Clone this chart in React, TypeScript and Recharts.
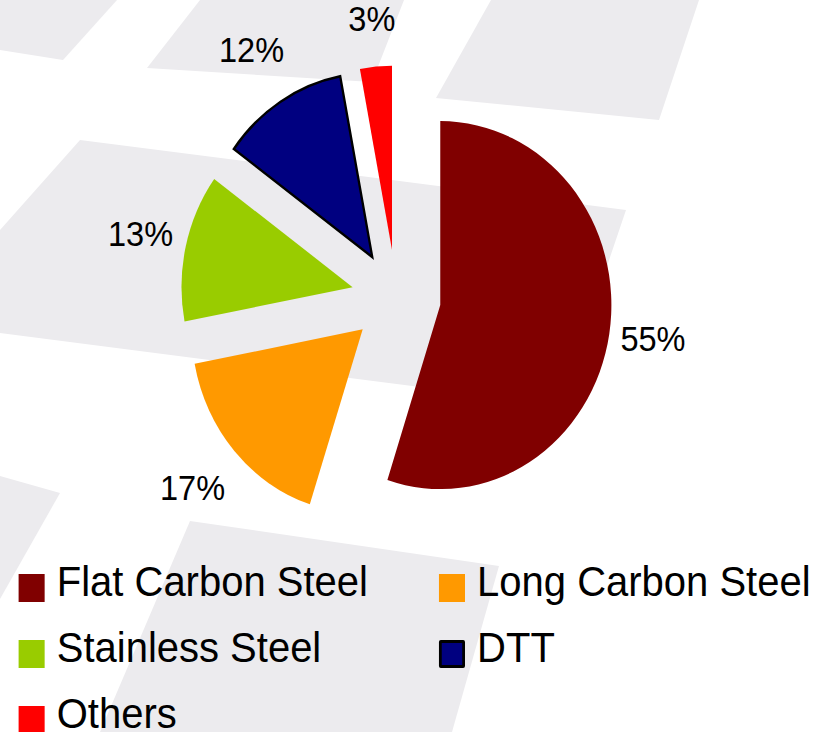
import React from 'react';
import { PieChart, Pie, Cell, Sector, Legend } from 'recharts';

const categories = ['Flat Carbon Steel', 'Long Carbon Steel', 'Stainless Steel', 'DTT', 'Others'];
const shares = [55, 17, 13, 12, 3];
const colors = ['#800000', '#FF9900', '#99CC00', '#000080', '#FF0000'];
const outlines = ['none', 'none', 'none', '#000000', 'none'];

const data = categories.map((name, i) => ({ name, value: shares[i] }));

// light grey slide watermark behind the chart
const backdrop = [
  '0,0 117,0 63,60 0,50',
  '200,0 404,0 372,82 147,68',
  '491,0 699,0 659,120 436,98',
  '80,140 626,210 560,405 0,333 0,230',
  '0,476 60,493 0,599',
  '190,521 499,566 452,732 100,732',
];

const RAD = Math.PI / 180;
const SQUEEZE = 0.93; // the slide picture is a bit narrower than it is tall
const WIDTH = 880;
const HEIGHT = 732;
const EXPLODE = 48;
const FONT = '"Liberation Sans", Arial, sans-serif';

const ExplodedSlice = (props: any) => {
  const dx = EXPLODE * Math.cos(-props.midAngle * RAD);
  const dy = EXPLODE * Math.sin(-props.midAngle * RAD);
  return <Sector {...props} cx={props.cx + dx} cy={props.cy + dy} />;
};

const renderLabel = (props: any) => {
  const { cx, cy, midAngle, outerRadius, value } = props;
  const ux = Math.cos(-midAngle * RAD);
  const uy = Math.sin(-midAngle * RAD);
  const dist = EXPLODE + outerRadius + 42 + 18 * Math.abs(Math.sin(2 * midAngle * RAD));
  return (
    <text
      x={cx + ux * dist}
      y={cy + uy * dist - 3}
      textAnchor="middle"
      dominantBaseline="central"
      fontSize={35}
      fontFamily={FONT}
      fill="#000"
    >
      {value}%
    </text>
  );
};

const renderLegend = ({ payload }: any) => {
  const items = [...(payload || [])].sort(
    (a: any, b: any) => categories.indexOf(a.value) - categories.indexOf(b.value)
  );
  return (
    <div
      style={{
        display: 'grid',
        gridTemplateColumns: '452px 400px',
        paddingLeft: 20,
        fontFamily: FONT,
        fontSize: 43,
        color: '#000',
      }}
    >
      {items.map((entry: any) => {
        const i = categories.indexOf(entry.value);
        return (
          <div key={entry.value} style={{ display: 'flex', alignItems: 'center', height: 66 }}>
            <span
              style={{
                width: 28,
                height: 28,
                boxSizing: 'border-box',
                background: colors[i],
                border: outlines[i] === 'none' ? 'none' : `3px solid ${outlines[i]}`,
                borderRadius: outlines[i] === 'none' ? 0 : 2,
                flex: 'none',
              }}
            />
            <span style={{ marginLeft: 13, position: 'relative', top: -7, lineHeight: 0.85, whiteSpace: 'nowrap' }}>
              {entry.value}
            </span>
          </div>
        );
      })}
    </div>
  );
};

export default function App() {
  return (
    <div style={{ position: 'absolute', left: 0, top: 0, width: 818, height: 732, overflow: 'hidden', background: '#fff' }}>
      <svg width={818} height={732} style={{ position: 'absolute', left: 0, top: 0 }}>
        {backdrop.map((pts) => (
          <polygon key={pts} points={pts} fill="#ecebee" />
        ))}
      </svg>
      <div
        style={{
          position: 'absolute',
          left: 0,
          top: 0,
          width: WIDTH,
          height: HEIGHT,
          transform: `scaleX(${SQUEEZE})`,
          transformOrigin: '0 0',
        }}
      >
        <PieChart width={WIDTH} height={HEIGHT} margin={{ top: 0, right: 0, bottom: 0, left: 0 }}>
          <Pie
            data={data}
            dataKey="value"
            nameKey="name"
            cx={426}
            cy={297.6}
            outerRadius={184}
            startAngle={90}
            endAngle={-270}
            stroke="none"
            shape={ExplodedSlice}
            label={renderLabel}
            labelLine={false}
            isAnimationActive={false}
          >
            {data.map((d, i) => (
              <Cell
                key={d.name}
                fill={colors[i]}
                stroke={outlines[i]}
                strokeWidth={outlines[i] === 'none' ? 0 : 2.5}
              />
            ))}
          </Pie>
          <Legend
            content={renderLegend}
            wrapperStyle={{ position: 'absolute', left: 0, top: 555, bottom: 'auto', width: WIDTH }}
          />
        </PieChart>
      </div>
    </div>
  );
}
